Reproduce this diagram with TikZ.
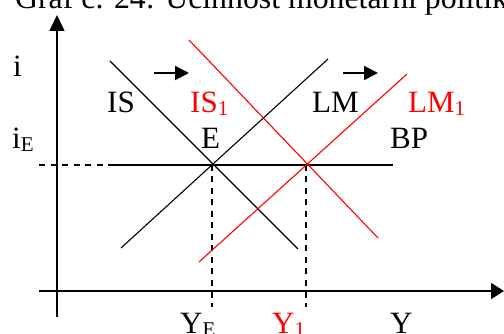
\documentclass[tikz,border=0pt]{standalone}
\usepackage{fontspec}
\setmainfont{Liberation Serif}
\usetikzlibrary{arrows.meta}
\newcommand{\lowsub}[1]{\raisebox{-3pt}{\fontsize{21}{21}\selectfont #1}}
\begin{document}
\begin{tikzpicture}[x=1pt,y=-1pt,
  lbl/.style={inner sep=0pt, anchor=base west, font=\fontsize{31}{31}\selectfont},
  axis/.style={line width=1.6pt},
  curve/.style={line width=1.1pt},
  guide/.style={line width=1.1pt, dash pattern=on 6pt off 5.5pt},
  shiftarrow/.style={line width=2pt, -{Triangle[length=14pt,width=14pt]}}]
\useasboundingbox (0,0) rectangle (504,334);
% title (cut at top)
\node[lbl, font=\fontsize{31.8}{32}\selectfont] (title) at (15,9) {Graf č. 24: Účinnost monetární politiky};
% coordinates
\coordinate (yb) at (57,317);
\coordinate (yt) at (57,15);
\coordinate (xl) at (39,291);
\coordinate (xr) at (504,291);
\coordinate (bpl) at (39,165);
\coordinate (bpm) at (108,165);
\coordinate (bpr) at (393,165);
\coordinate (E) at (212,165);
\coordinate (E1) at (306,165);
\coordinate (Eb) at (212,307);
\coordinate (E1b) at (306,307);
\coordinate (isa) at (110,61);
\coordinate (isb) at (298,249);
\coordinate (lma) at (121,248);
\coordinate (lmb) at (328,59);
\coordinate (is1a) at (189,40);
\coordinate (is1b) at (378,238);
\coordinate (lm1a) at (199,262);
\coordinate (lm1b) at (407,74);
\coordinate (a1s) at (154,73);
\coordinate (a1e) at (189,73);
\coordinate (a2s) at (343,73);
\coordinate (a2e) at (378,73);
% axes
\draw[axis, -{Triangle[length=16pt,width=15pt]}] (yb) -- (yt);
\draw[axis, -{Triangle[length=13pt,width=16pt]}] (xl) -- (xr);
% BP and guides
\draw[guide] (bpl) -- (bpm);
\draw[curve] (bpm) -- (bpr);
\draw[guide] (E) -- (Eb);
\draw[guide] (E1) -- (E1b);
% curves
\draw[curve] (isa) -- (isb);
\draw[curve] (lma) -- (lmb);
\draw[curve, red] (is1a) -- (is1b);
\draw[curve, red] (lm1a) -- (lm1b);
% shift arrows
\draw[shiftarrow] (a1s) -- (a1e);
\draw[shiftarrow] (a2s) -- (a2e);
% labels
\node[lbl] (li) at (13,77) {i};
\node[lbl] (liE) at (12,149) {i\lowsub{E}};
\node[lbl] (lIS) at (107,113) {IS};
\node[lbl, text=red] (lIS1) at (190,113) {IS\lowsub{1}};
\node[lbl] (lE) at (201,149) {E};
\node[lbl] (lLM) at (312,113) {LM};
\node[lbl, text=red] (lLM1) at (408,113) {LM\lowsub{1}};
\node[lbl] (lBP) at (390,149) {BP};
\node[lbl] (lYE) at (180,333) {Y\lowsub{E}};
\node[lbl, text=red] (lY1) at (272,333) {Y\lowsub{1}};
\node[lbl] (lY) at (390,333) {Y};
\end{tikzpicture}
\end{document}
